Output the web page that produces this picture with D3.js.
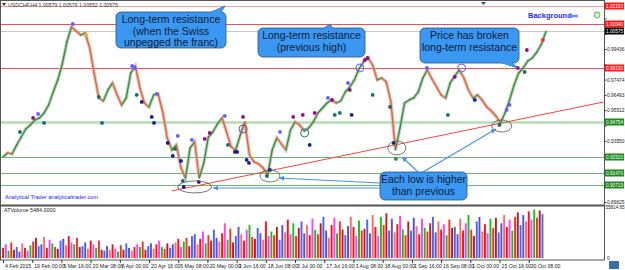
<!DOCTYPE html>
<html>
<head>
<meta charset="utf-8">
<script src="https://cdn.jsdelivr.net/npm/d3@7"></script>
<style>
  body { margin: 0; background: #fff; }
  svg { display: block; }
  text { font-family: "Liberation Sans", Arial, sans-serif; }
</style>
</head>
<body>
<svg id="chart" width="625" height="270"></svg>
<script>
// USDCHF H4, one close read every 10 bars
const barStep = 10;
const closes = [
  0.92514, 0.9277, 0.92706, 0.93283, 0.93796, 0.94309, 0.94565, 0.94886, 0.95014, 0.95334,
  0.95847, 0.9668, 0.9745, 0.98475, 0.99885, 1.00847, 1.0059, 1.00334, 1.00462, 0.99501,
  0.97834, 0.96296, 0.96103, 0.96809, 0.97257, 0.96488, 0.95847, 0.96296, 0.97898, 0.98347,
  0.96937, 0.95975, 0.95719, 0.96488, 0.96552, 0.95398, 0.93732, 0.92963, 0.93283, 0.91809,
  0.91168, 0.93091, 0.93475, 0.91168, 0.92129, 0.93796, 0.94116, 0.94629, 0.95014, 0.94116,
  0.93155, 0.92963, 0.93924, 0.94757, 0.92642, 0.92193, 0.92065, 0.91809, 0.9136, 0.92963,
  0.93732, 0.93347, 0.92963, 0.94245, 0.94757, 0.94565, 0.9418, 0.94373, 0.94757, 0.95334,
  0.95655, 0.95975, 0.96168, 0.95975, 0.96103, 0.9668, 0.97001, 0.9745, 0.98155, 0.98603,
  0.9886, 0.98411, 0.9745, 0.97578, 0.97321, 0.96039, 0.92963, 0.94373, 0.95975, 0.96168,
  0.96296, 0.9668, 0.97578, 0.98091, 0.97514, 0.97001, 0.96488, 0.96296, 0.97257, 0.97706,
  0.98091, 0.97578, 0.96809, 0.96296, 0.96488, 0.96168, 0.95719, 0.95462, 0.95142, 0.94693,
  0.95334, 0.96168, 0.97129, 0.97898, 0.98219, 0.98667, 0.9886, 0.99244, 0.99757, 1.00575
];

// fractal / signal dots: bar index, price, kind
const dotBars = [66, 77, 90, 37, 153, 182, 210, 217, 283, 289, 293, 304, 326, 331, 337, 361, 372, 377,
  383, 390, 394, 396, 414, 429, 442, 453, 486, 493, 508, 513, 526, 534, 539, 578, 585, 607, 636,
  657, 672, 683, 712, 721, 727, 738, 756, 760, 764, 793, 799, 810, 848, 856, 861, 929, 975, 990,
  1034, 1088, 1104, 1110, 1128, 1143, 1148, 1183];
const dotPrices = [0.95014, 0.9527, 0.94693, 0.94116, 1.01039, 1.00334, 0.9636, 0.94693, 0.98347,
  0.98219, 0.96488, 0.96039, 0.95078, 0.94693, 0.96552, 0.93411, 0.92578, 0.93027, 0.9386, 0.92258,
  0.90975, 0.90591, 0.93604, 0.90911, 0.93668, 0.94052, 0.95142, 0.93283, 0.92834, 0.92834, 0.95078,
  0.92322, 0.92129, 0.91296, 0.91681, 0.94116, 0.95078, 0.95206, 0.93283, 0.95334, 0.96296, 0.96168,
  0.95206, 0.95334, 0.97257, 0.96809, 0.95206, 0.98732, 0.9886, 0.96488, 0.95719, 0.93411, 0.92386,
  0.98219, 0.95206, 0.97642, 0.96168, 0.94565, 0.95527, 0.95847, 0.98219, 0.97962, 0.99373, 1.00014];
const dotKinds = ["p", "v", "t", "t", "v", "o", "t", "t", "v", "v", "t", "n", "n", "n", "v", "n", "n", "t",
  "v", "n", "t", "n", "v", "n", "p", "p", "v", "t", "n", "n", "p", "n", "n", "t", "n", "v", "p",
  "p", "n", "p", "v", "p", "t", "t", "v", "p", "n", "p", "p", "t", "t", "n", "g",
  "v", "t", "p", "n", "t", "v", "v", "p", "t", "p", "r"];

const ringBars = [526, 661, 782, 1005];
const ringPrices = [0.94309, 0.94052, 0.98219, 0.98219];
const ringColors = ["#b0309a", "#1f7a7a", "#5a5aff", "#5a5aff"];

// annotated lows
const lowBars = [420, 585, 863, 1093];
const lowPrices = [0.90591, 0.91296, 0.93091, 0.94501];

const resistLevels = [1.02193, 1.0104, 0.9823];
const supportLevels = [0.94754, 0.9252, 0.9147, 0.90719];
const lastPrice = 1.00575;
const trendBars = [370, 1316];
const trendPrices = [0.90335, 0.96039];

const priceTicks = [0.89625, 0.90606, 0.91587, 0.92568, 0.9355, 0.94531, 0.95512, 0.96493,
  0.97474, 0.98455, 0.99436, 1.00417, 1.01398, 1.02379];

const dateLabels = ["4 Feb 2015", "19 Feb 00:00", "5 Mar 16:00", "20 Mar 08:00", "6 Apr 00:00",
  "20 Apr 16:00", "5 May 08:00", "20 May 00:00", "3 Jun 16:00", "18 Jun 08:00", "3 Jul 00:00",
  "17 Jul 16:00", "3 Aug 08:00", "18 Aug 00:00", "1 Sep 16:00", "16 Sep 08:00", "1 Oct 00:00",
  "15 Oct 16:00", "30 Oct 08:00"];
const barsPerLabel = 64;

// ATVolume, thousands of ticks, one bar every 6 H4 bars
const volStep = 6;
const volumes = [
  11, 15, 8, 17, 9, 12, 7, 16, 11, 8, 14, 18, 22, 13, 15, 23, 11, 20, 16, 12, 10, 19, 21, 14, 24, 17, 15, 22, 12, 13, 17, 10, 19,
  15, 11, 19, 9, 8, 13, 9, 15, 10, 7, 14, 9, 16, 11, 8, 12, 15, 12, 18, 9, 13, 16, 10, 15, 19, 12, 10, 16, 11, 15, 17, 21, 12,
  18, 22, 13, 24, 26, 15, 21, 29, 16, 25, 19, 31, 22, 18, 27, 38, 20, 32, 17, 24, 34, 26, 19, 31, 36, 23, 21, 33, 27, 20, 40, 24, 29,
  25, 34, 20, 36, 28, 42, 26, 38, 24, 33, 40, 27, 36, 25, 43, 31, 26, 38, 45, 30, 22, 36, 44, 27, 40, 31, 25, 35, 45, 34, 24, 41, 30,
  32, 42, 27, 47, 34, 24, 45, 36, 49, 30, 43, 28, 37, 46, 31, 25, 40, 30, 44, 35, 26, 43, 33, 29, 38, 45, 28, 40, 31, 37, 25, 42, 33,
  34, 26, 43, 30, 38, 47, 31, 24, 40, 45, 29, 37, 27, 43, 33, 44, 28, 38, 47, 34, 42, 30, 45, 50, 36, 47, 40, 51, 42, 53, 44, 52, 48
];
const volMax = 55.81465;

const svg = d3.select("#chart");
const right = 604;
const mainBottom = 205;

let x = d3.scaleLinear().domain([0, 1317]).range([3, right]);
let y = d3.scaleLinear().domain([0.89625, 1.02193]).range([202, 6]);
let yVol = d3.scaleLinear().domain([0, volMax]).range([258, 207]);

svg.append("clipPath").attr("id", "mainClip")
  .append("rect").attr("x", 1).attr("y", 1).attr("width", right - 1).attr("height", mainBottom - 1);

const main = svg.append("g").attr("clip-path", "url(#mainClip)");

// horizontal levels
main.selectAll(".res").data(resistLevels).join("line")
  .attr("x1", 1).attr("x2", right)
  .attr("y1", (d) => Math.round(y(d)) + 0.5).attr("y2", (d) => Math.round(y(d)) + 0.5)
  .attr("stroke", (d, i) => (i == 0 ? "#ff9c9c" : "#ff4b4b")).attr("stroke-width", 1);
main.selectAll(".sup").data(supportLevels).join("line")
  .attr("x1", 1).attr("x2", right)
  .attr("y1", (d) => Math.round(y(d)) + 0.5).attr("y2", (d) => Math.round(y(d)) + 0.5)
  .attr("stroke", (d, i) => (i == 0 ? "#b4dcb4" : "#6cb86c"))
  .attr("stroke-width", (d, i) => (i == 0 ? 2.5 : 1));
main.append("line")
  .attr("x1", 1).attr("x2", right)
  .attr("y1", Math.round(y(lastPrice)) + 0.5).attr("y2", Math.round(y(lastPrice)) + 0.5)
  .attr("stroke", "#c8c8c8");

// trend line
main.append("line")
  .attr("x1", x(trendBars[0])).attr("y1", y(trendPrices[0]))
  .attr("x2", x(trendBars[1])).attr("y2", y(trendPrices[1]))
  .attr("stroke", "#ff4040").attr("stroke-width", 1);

// gray candle texture + colored close line
const pts = closes.map((c, i) => [x(i * barStep), y(c)]);
main.append("path").datum(pts)
  .attr("d", d3.line())
  .attr("fill", "none").attr("stroke", "#b4b4b4").attr("stroke-width", 3.5).attr("opacity", 0.7);
main.selectAll(".seg").data(pts.slice(1)).join("line")
  .attr("x1", (d, i) => pts[i][0]).attr("y1", (d, i) => pts[i][1])
  .attr("x2", (d) => d[0]).attr("y2", (d) => d[1])
  .attr("stroke", (d, i) => (closes[i + 1] >= closes[i] ? "#2a962a" : "#ff5a24"))
  .attr("stroke-width", 1.3).attr("stroke-linecap", "round");

// dots
const dotColor = { v: "#6b5bff", p: "#9c0a7c", t: "#0f6e6e", n: "#1b1b8f", o: "#ffa030", g: "#1f8f3f", r: "#ff3030" };
main.selectAll(".dot").data(dotBars).join("circle")
  .attr("cx", (d) => x(d)).attr("cy", (d, i) => y(dotPrices[i]))
  .attr("r", 1.9).attr("fill", (d, i) => dotColor[dotKinds[i]]);
main.selectAll(".ring").data(ringBars).join("circle")
  .attr("cx", (d) => x(d)).attr("cy", (d, i) => y(ringPrices[i]))
  .attr("r", 4).attr("fill", "none").attr("stroke", (d, i) => ringColors[i]).attr("stroke-width", 1);
const lowRx = [17, 10, 9, 10];
const lowRy = [6, 6, 7, 6];
main.selectAll(".low").data(lowBars).join("ellipse")
  .attr("cx", (d) => x(d)).attr("cy", (d, i) => y(lowPrices[i]))
  .attr("rx", (d, i) => lowRx[i]).attr("ry", (d, i) => lowRy[i])
  .attr("fill", "none").attr("stroke", "#555").attr("stroke-width", 0.8);

// volume bars
const volColors = ["#ff1010", "#4a62ff", "#a01010", "#18c018", "#ff6a6a", "#8a8aff", "#c01a1a", "#ff40ff", "#b21010", "#5050e0", "#ff2a2a", "#9a2ab0"];
svg.append("g").selectAll("rect").data(volumes).join("rect")
  .attr("x", (d, i) => x(i * volStep) - 0.9)
  .attr("y", (d) => yVol(d))
  .attr("width", 1.9)
  .attr("height", (d) => yVol(0) - yVol(d))
  .attr("fill", (d, i) => volColors[(i * 7 + (i >> 1)) % volColors.length]);

// frames
svg.append("rect").attr("x", 0.5).attr("y", 0.5).attr("width", right).attr("height", 259.5)
  .attr("fill", "none").attr("stroke", "#555");
svg.append("line").attr("x1", 0).attr("x2", right + 0.5).attr("y1", mainBottom + 0.5).attr("y2", mainBottom + 0.5)
  .attr("stroke", "#555").attr("stroke-width", 2);

// level tags on axis
const tags = resistLevels.map((v) => ({ v, c: "#ff1a1a" }))
  .concat([{ v: lastPrice, c: "#000" }])
  .concat(supportLevels.map((v) => ({ v, c: "#1d8a1d" })));

// price axis (labels hidden where a tag sits)
const yAxis = d3.axisRight(y).tickValues(priceTicks).tickFormat(d3.format(".5f")).tickSize(2);
const gy = svg.append("g").attr("transform", "translate(" + (right + 0.5) + ",0)").call(yAxis);
gy.select(".domain").remove();
gy.selectAll("text").attr("x", 2.5).style("font-size", "4.8px").attr("fill", "#222")
  .attr("textLength", 17.5).attr("lengthAdjust", "spacingAndGlyphs")
  .attr("display", (d) => (tags.some((t) => Math.abs(y(t.v) - y(d)) < 7) ? "none" : null));
gy.selectAll("line").attr("stroke", "#333");

const tagG = svg.append("g").selectAll("g").data(tags).join("g")
  .attr("transform", (d) => "translate(" + (right + 1) + "," + Math.round(y(d.v)) + ")");
tagG.append("rect").attr("x", 0).attr("y", -3.5).attr("width", 19).attr("height", 7).attr("fill", (d) => d.c);
tagG.append("text").attr("x", 9.5).attr("y", 1.9).attr("text-anchor", "middle")
  .style("font-size", "5px").attr("fill", "#fff")
  .attr("textLength", 17).attr("lengthAdjust", "spacingAndGlyphs")
  .text((d) => d3.format(".5f")(d.v));

// volume axis labels
svg.append("text").attr("x", right + 1.5).attr("y", 209).style("font-size", "4.8px").attr("fill", "#222")
  .attr("textLength", 19).attr("lengthAdjust", "spacingAndGlyphs")
  .text(d3.format(".2f")(volMax * 1000));
svg.append("text").attr("x", right + 3).attr("y", 260).style("font-size", "5px").attr("fill", "#222").text("0");

// date axis
const xAxis = d3.axisBottom(x)
  .tickValues(dateLabels.map((d, i) => i * barsPerLabel))
  .tickFormat((d, i) => dateLabels[i]).tickSize(3);
const gx = svg.append("g").attr("transform", "translate(0,260)").call(xAxis);
gx.select(".domain").remove();
gx.selectAll("text").attr("text-anchor", "start").attr("x", 1.5).attr("y", 4)
  .style("font-size", "5.2px").attr("fill", "#222");
gx.selectAll("line").attr("stroke", "#333");

// small texts
svg.append("text").attr("x", 8).attr("y", 6.5).style("font-size", "5.2px").attr("fill", "#333")
  .text("USDCHF,H4  1.00579 1.00579 1.00552 1.00575");
svg.append("path").attr("d", "M2,3 L6,3 L4,6 Z").attr("fill", "#333");
svg.append("path").attr("d", "M481,2 L486,2 L483.5,5 Z").attr("fill", "#444");
svg.append("text").attr("x", 528).attr("y", 18).style("font-size", "7.5px").style("font-weight", "bold")
  .attr("fill", "#2a2aff").text("Background");
svg.append("line").attr("x1", 568).attr("x2", 578).attr("y1", 16).attr("y2", 16)
  .attr("stroke", "#6b8cff").attr("stroke-width", 2.5);
svg.append("circle").attr("cx", 597).attr("cy", 15).attr("r", 2.8)
  .attr("fill", "#d8f0d0").attr("stroke", "#7cc07c").attr("stroke-width", 1.2);
svg.append("text").attr("x", 5).attr("y", 199).style("font-size", "5.6px").attr("fill", "#1a1aff")
  .text("Analytical Trader analyticaltrader.com");
svg.append("text").attr("x", 4).attr("y", 212).style("font-size", "5.4px").attr("fill", "#222")
  .text("ATVolume 5484.0000");
svg.append("rect").attr("x", 609).attr("y", 261).attr("width", 10).attr("height", 8).attr("fill", "#3a6ea8");

// callouts
const boxFill = "#3a97f2";
const boxStroke = "#2b4f86";
const callout = (bx, by, w, h, lines, tail) => {
  const g = svg.append("g");
  if (tail) {
    g.append("path").attr("d", tail).attr("fill", boxFill).attr("stroke", boxStroke).attr("stroke-width", 0.8);
  }
  g.append("rect").attr("x", bx).attr("y", by).attr("width", w).attr("height", h)
    .attr("rx", 5).attr("fill", boxFill).attr("stroke", boxStroke).attr("stroke-width", 0.8);
  if (tail) {
    g.append("path").attr("d", tail).attr("fill", boxFill);
  }
  g.selectAll("text").data(lines).join("text")
    .attr("x", bx + w / 2).attr("y", (d, i) => by + 11 + i * 11.5)
    .attr("text-anchor", "middle").style("font-size", "10.5px").attr("fill", "#121a33").text((d) => d);
};
callout(116, 12, 110, 36, ["Long-term resistance", "(when the Swiss", "unpegged the franc)"], "M208,13.5 L220,13.5 L225,6 Z");
callout(258, 28, 107, 29, ["Long-term resistance", "(previous high)"], "M322,29.5 L334,29.5 L330,24 Z");
callout(420, 28, 99, 35, ["Price has broken", "long-term resistance"], "M498,61.5 L510,61.5 L518,68 Z");
callout(380, 172, 87, 28, ["Each low is higher", "than previous"], null);

// arrows from bottom callout to the lows
const arrowColor = "#4a92e6";
const arrows = [[418, 172, 402, 157], [423, 172, 496, 129], [380, 183, 279, 178], [380, 188, 213, 188]];
arrows.forEach((a) => {
  svg.append("line").attr("x1", a[0]).attr("y1", a[1]).attr("x2", a[2]).attr("y2", a[3])
    .attr("stroke", arrowColor).attr("stroke-width", 1.2);
  const ang = Math.atan2(a[3] - a[1], a[2] - a[0]);
  const L = 5, W = 2.5;
  const bx = a[2] - L * Math.cos(ang), by = a[3] - L * Math.sin(ang);
  svg.append("path")
    .attr("d", "M" + a[2] + "," + a[3] +
      " L" + (bx + W * Math.sin(ang)) + "," + (by - W * Math.cos(ang)) +
      " L" + (bx - W * Math.sin(ang)) + "," + (by + W * Math.cos(ang)) + " Z")
    .attr("fill", arrowColor);
});
</script>
</body>
</html>
